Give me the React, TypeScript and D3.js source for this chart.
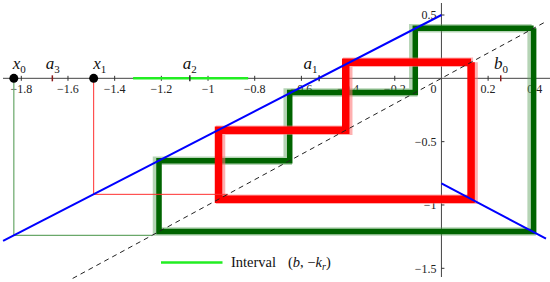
import React from "react";
import * as d3 from "d3";

const W = 550;
const H = 282;

// Axis ticks
const xTicks = [-1.8, -1.6, -1.4, -1.2, -1, -0.8, -0.6, -0.4, -0.2, 0.2, 0.4];
const xTickLabels = ["−1.8", "−1.6", "−1.4", "−1.2", "−1", "−0.8", "−0.6", "−0.4", "−0.2", "0.2", "0.4"];
const yTicks = [0.5, -0.5, -1, -1.5];
const yTickLabels = ["0.5", "−0.5", "−1", "−1.5"];

// Piecewise-linear map branches
const leftBranchX = [-1.878, 0];
const leftBranchY = [-1.284, 0.5];
const rightBranchX = [0, 0.448];
const rightBranchY = [-0.83, -1.265];

// Diagonal y = x
const diagX = [-1.58, 0.45];

// Cycles (cobweb values)
const greenCycle = [0.395, -1.21, -0.65, -0.112, 0.395];
const redCycle = [0.127, -0.955, -0.41, 0.127];

// Transients
const greenStart = [-1.832, -1.24];
const redStart = [-1.49, -0.916];

// Interval (b, -k_r)
const intervalX = [-1.321, -0.828];

// Points and markers
const dotX = [-1.832, -1.49];
const markX = [-1.667, -1.078, -0.524, 0.254];
const markColor = ["#8b1a1a", "#333333", "#333333", "#8b1a1a"];
const labelNames = ["x", "a", "x", "a", "a", "b"];
const labelSubs = ["0", "3", "1", "2", "1", "0"];
const labelX = [-1.809, -1.665, -1.464, -1.078, -0.561, 0.255];

const xs = d3.scaleLinear().domain([-1.8, 0.4]).range([21.3, 534.8]);
const ys = d3.scaleLinear().domain([0.5, -1.5]).range([15, 268.3]);

function cobweb(vals: number[]): [number, number][] {
  const pts: [number, number][] = [[vals[0], vals[0]]];
  for (let i = 1; i < vals.length; i++) {
    pts.push([vals[i - 1], vals[i]]);
    pts.push([vals[i], vals[i]]);
  }
  return pts;
}

function transient(vals: number[]): [number, number][] {
  return [
    [vals[0], 0],
    [vals[0], vals[1]],
    [vals[1], vals[1]],
  ];
}

const line = d3
  .line<[number, number]>()
  .x((d) => xs(d[0]))
  .y((d) => ys(d[1]));

const serif = "Liberation Serif, DejaVu Serif, serif";
const ts: React.CSSProperties = { fontFamily: serif };

export default function App() {
  const x0 = xs(0);
  const y0 = ys(0);
  const gPath = line(cobweb(greenCycle)) || "";
  const rPath = line(cobweb(redCycle)) || "";
  return (
    <svg
      width={W}
      height={H}
      style={{ position: "fixed", left: 0, top: 0, background: "#fff", fontFamily: serif }}
    >
      {/* axes */}
      <line x1={3} x2={550} y1={y0} y2={y0} stroke="#444" strokeWidth={1} />
      <line x1={x0} x2={x0} y1={3} y2={277} stroke="#444" strokeWidth={1} />
      {xTicks.map((t, i) => (
        <g key={"xt" + i}>
          <line x1={xs(t)} x2={xs(t)} y1={y0 - 2.5} y2={y0 + 2.5} stroke="#333" />
          <text x={xs(t)} y={y0 + 14.5} fontSize={12} textAnchor="middle" fill="#222" style={ts}>
            {xTickLabels[i]}
          </text>
        </g>
      ))}
      <text x={x0 - 5} y={y0 + 14.5} fontSize={12} textAnchor="end" fill="#222" style={ts}>
        0
      </text>
      {yTicks.map((t, i) => (
        <g key={"yt" + i}>
          <line x1={x0} x2={x0 + 3} y1={ys(t)} y2={ys(t)} stroke="#333" />
          <text x={x0 - 5} y={ys(t)} dy="0.35em" fontSize={12} textAnchor="end" fill="#222" style={ts}>
            {yTickLabels[i]}
          </text>
        </g>
      ))}

      {/* interval */}
      <line x1={xs(intervalX[0])} x2={xs(intervalX[1])} y1={y0} y2={y0} stroke="#22ee22" strokeWidth={2.5} />

      {/* markers */}
      {markX.map((m, i) => (
        <line key={"m" + i} x1={xs(m)} x2={xs(m)} y1={y0 - 3} y2={y0 + 3} stroke={markColor[i]} strokeWidth={1.5} />
      ))}

      {/* green cycle */}
      <path d={gPath} fill="none" stroke="#5aa05a" strokeOpacity={0.45} strokeWidth={8.5} strokeLinejoin="miter" transform="translate(-2,0)" />
      <path d={gPath} fill="none" stroke="#006400" strokeWidth={5.5} strokeLinejoin="miter" />

      {/* red cycle */}
      <path d={rPath} fill="none" stroke="#ff7070" strokeOpacity={0.55} strokeWidth={9.5} strokeLinejoin="miter" transform="translate(2,0)" />
      <path d={rPath} fill="none" stroke="#ff0000" strokeWidth={7.5} strokeLinejoin="miter" />

      {/* transients */}
      <path d={line(transient(greenStart)) || ""} fill="none" stroke="#6aa86a" strokeWidth={1.2} />
      <path d={line(transient(redStart)) || ""} fill="none" stroke="#ff3030" strokeWidth={1} />

      {/* blue branches */}
      <line x1={xs(leftBranchX[0])} y1={ys(leftBranchY[0])} x2={xs(leftBranchX[1])} y2={ys(leftBranchY[1])} stroke="#0000ff" strokeWidth={2} />
      <line x1={xs(rightBranchX[0])} y1={ys(rightBranchY[0])} x2={xs(rightBranchX[1])} y2={ys(rightBranchY[1])} stroke="#0000ff" strokeWidth={2} />

      {/* diagonal */}
      <line x1={xs(diagX[0])} y1={ys(diagX[0])} x2={xs(diagX[1])} y2={ys(diagX[1])} stroke="#222" strokeWidth={1} strokeDasharray="5,4" />

      {/* dots */}
      {dotX.map((d, i) => (
        <circle key={"d" + i} cx={xs(d)} cy={y0} r={4.5} fill="#000" />
      ))}

      {/* labels */}
      {labelNames.map((n, i) => (
        <text key={"l" + i} x={xs(labelX[i])} y={69} textAnchor="middle" fontSize={17} fill="#111" style={ts}>
          <tspan fontStyle="italic">{n}</tspan>
          <tspan fontSize={11} dy={4}>{labelSubs[i]}</tspan>
        </text>
      ))}

      {/* legend */}
      <line x1={161} x2={222.5} y1={262.5} y2={262.5} stroke="#22ee22" strokeWidth={2.5} />
      <text x={231} y={266.5} fontSize={14.5} fill="#111" style={ts}>
        Interval
      </text>
      <text x={288} y={266.5} fontSize={14.5} fill="#111" style={ts}>
        <tspan>(</tspan>
        <tspan fontStyle="italic">b</tspan>
        <tspan>, −</tspan>
        <tspan fontStyle="italic">k</tspan>
        <tspan fontStyle="italic" fontSize={10} dy={3}>r</tspan>
        <tspan dy={-3}>)</tspan>
      </text>
    </svg>
  );
}
